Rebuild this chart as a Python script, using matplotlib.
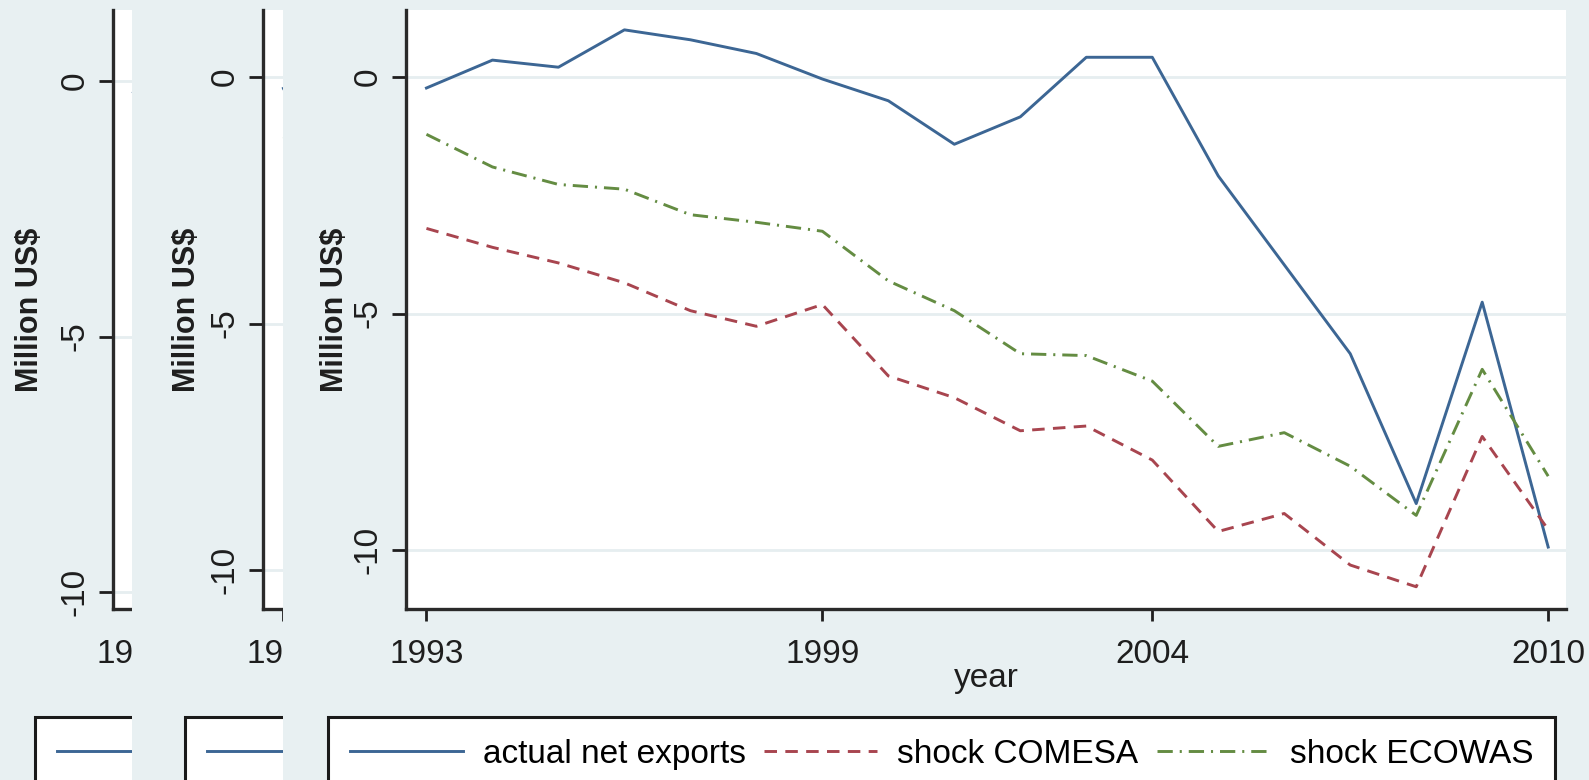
import matplotlib
matplotlib.use("Agg")
import matplotlib.pyplot as plt
from matplotlib.patches import Rectangle

# data
years = list(range(1993, 2011))
actual = [-0.23, 0.36, 0.21, 1.0, 0.79, 0.5, -0.04, -0.5, -1.42, -0.84,
          0.42, 0.42, -2.09, -3.97, -5.85, -9.02, -4.76, -9.94]
comesa = [-3.2, -3.6, -3.93, -4.35, -4.94, -5.27, -4.81, -6.32, -6.78, -7.48,
          -7.38, -8.1, -9.61, -9.23, -10.32, -10.78, -7.6, -9.57]
ecowas = [-1.21, -1.9, -2.27, -2.37, -2.91, -3.07, -3.26, -4.31, -4.94, -5.85,
          -5.89, -6.43, -7.81, -7.52, -8.23, -9.27, -6.18, -8.44]
x_ticks = [1993, 1999, 2004, 2010]
y_ticks = [0, -5, -10]
y_ticklabels = ["0", "-5", "-10"]
labels = ["actual net exports", "shock COMESA", "shock ECOWAS"]

W, H = 1589, 780
bg = "#e8f0f2"
blue, red, green = "#3c6694", "#a8454f", "#648c42"

plt.rcParams["font.family"] = ["Liberation Sans", "DejaVu Sans"]
plt.rcParams["lines.scale_dashes"] = False

fig = plt.figure(figsize=(W / 100, H / 100), dpi=100, facecolor=bg)


def draw_panel(left, ylim, z, ylab_x):
    # axes placed in pixel units of the full picture
    ax = fig.add_axes([left / W, 1 - 609 / H, 1160 / W, 599 / H], zorder=z)
    ax.set_facecolor("white")
    ax.plot(years, actual, color=blue, lw=2.1, label=labels[0])
    ax.plot(years, comesa, color=red, lw=2.1, dashes=(9, 6), label=labels[1])
    ax.plot(years, ecowas, color=green, lw=2.1, dashes=(11, 5, 1.5, 5), label=labels[2])
    ax.set_xlim(1992.69, 2010.27)
    ax.set_ylim(*ylim)
    ax.set_xticks(x_ticks)
    ax.set_yticks(y_ticks)
    ax.set_yticklabels(y_ticklabels, rotation=90, va="center")
    ax.tick_params(axis="y", length=10, width=2, pad=6, labelsize=24, colors="#1e1e1e")
    ax.tick_params(axis="x", length=8.6, width=2, pad=13, labelsize=24, colors="#1e1e1e")
    for s in ["top", "right"]:
        ax.spines[s].set_visible(False)
    for s in ["left", "bottom"]:
        ax.spines[s].set_linewidth(2.4)
        ax.spines[s].set_color("#2a2a2a")
    ax.grid(axis="y", color="#e6eef0", lw=2)
    ax.set_axisbelow(True)
    ax.set_ylabel("Million US$", fontsize=22, fontweight="bold", color="#1e1e1e")
    ax.yaxis.set_label_coords(ylab_x, 0.5)
    ax.set_xlabel("year", fontsize=24, color="#1e1e1e")
    ax.xaxis.set_label_coords(0.5, -0.09)
    leg = ax.legend(loc="upper left", ncol=3, mode="expand",
                    bbox_to_anchor=((left - 78) / W, 1 - 717 / H - 0.2, 1227 / W, 0.2),
                    bbox_transform=fig.transFigure, borderaxespad=0,
                    fontsize=24, handlelength=3.4, handletextpad=0.6,
                    fancybox=False, framealpha=1, edgecolor="#1a1a1a",
                    borderpad=0.65)
    leg.get_frame().set_linewidth(2.2)
    return ax


def cover(x_px, z):
    fig.add_artist(Rectangle((x_px / W, 0), 1, 1, transform=fig.transFigure,
                             facecolor=bg, edgecolor="none", zorder=z))


draw_panel(113, (-10.33, 1.39), 1, -0.0586)
cover(132, 2)
draw_panel(263, (-10.79, 1.36), 3, -0.0526)
cover(283, 4)
draw_panel(406, (-11.25, 1.42), 5, -0.0483)

plt.savefig("out.png", dpi=100, facecolor=bg)
